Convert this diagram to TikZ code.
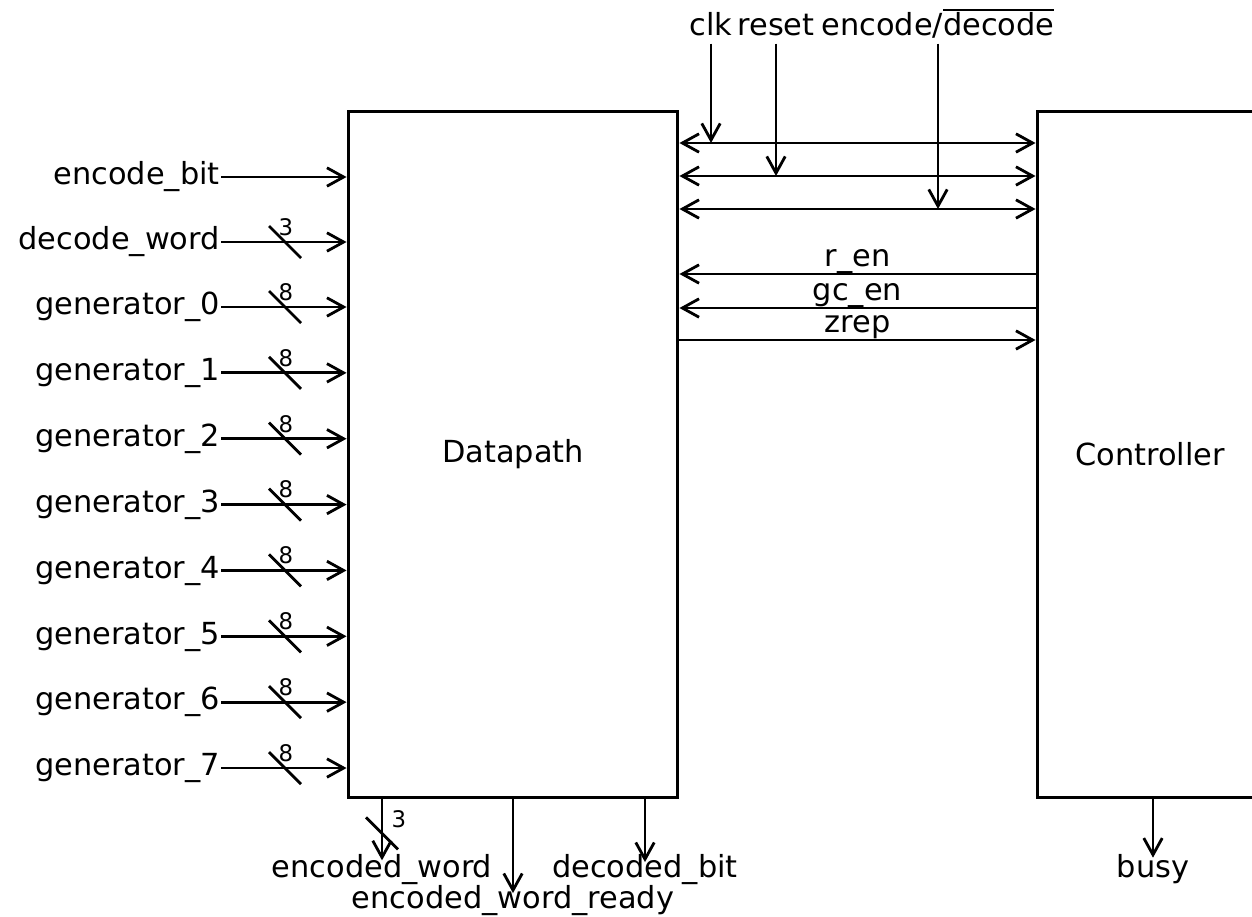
\documentclass[tikz,border=0pt]{standalone}
\usepackage{fontspec}
\setmainfont{DejaVu Sans}
\usepackage{tikz}
\usetikzlibrary{arrows.meta}
\usetikzlibrary{calc}

% bar over an active-low name
\newcommand{\negbar}[1]{\vbox{\hrule height 1.2pt\kern 0.3pt\hbox{#1}}}

\begin{document}
\begin{tikzpicture}[x=0.02cm,y=-0.02cm,>={Straight Barb[length=9.5pt,width=10.5pt]},
		sig/.style={->,line width=1.6pt},
		bidir/.style={<->,line width=1.6pt},
		slash/.style={line width=1.6pt},
		block/.style={draw,line width=1.7pt,inner sep=0pt,font=\fontsize{17.3pt}{20pt}\selectfont},
		lbl/.style={inner sep=0.5pt,text height=1em,text depth=0.12em,font=\fontsize{17.3pt}{20pt}\selectfont},
		busw/.style={inner sep=0pt,font=\fontsize{13pt}{15pt}\selectfont}]
		
		\useasboundingbox (0,0) rectangle (1252,917);
		
		% Blocks
		\node[block,minimum width=6.6cm,minimum height=13.74cm] (dp) at (513,454.5) {Datapath};
		\node[block,minimum width=4.52cm,minimum height=13.74cm] (ctl) at (1150,454.5) {Controller};
		
		% Datapath inputs
		\node[lbl,anchor=east] (ebit) at (221,177) {encode\_bit};
		\draw[sig] (ebit) -- (dp.west |- ebit);
		\node[lbl,anchor=east] (dword) at (221,242) {decode\_word};
		\draw[sig] (dword) -- (dp.west |- dword);
		\coordinate (dwords) at (285,242);
		\draw[slash] (dwords) ++(-16,-16) -- ++(32,32);
		\node[busw] (dwordw) at ($(dwords)+(1,-15)$) {3};
		\foreach \i in {0,...,7} {
			\node[lbl,anchor=east] (gen\i) at (221,{307+65.86*\i}) {generator\_\i};
			\draw[sig] (gen\i) -- (dp.west |- gen\i);
			\coordinate (gens\i) at (285,{307+65.86*\i});
			\draw[slash] (gens\i) ++(-16,-16) -- ++(32,32);
			\node[busw] (genw\i) at ($(gens\i)+(1,-15)$) {8};
		}
		
		% Global signals (both blocks)
		\coordinate (rowclk) at (0,143);
		\coordinate (rowrst) at (0,176);
		\coordinate (rowmode) at (0,209);
		\node[lbl,anchor=base] (clk) at (711,35) {clk};
		\node[lbl,anchor=base] (rst) at (776,35) {reset};
		\node[lbl,anchor=base] (mode) at (938,35) {encode/\negbar{decode}};
		\draw[bidir] (dp.east |- rowclk) -- (ctl.west |- rowclk);
		\draw[bidir] (dp.east |- rowrst) -- (ctl.west |- rowrst);
		\draw[bidir] (dp.east |- rowmode) -- (ctl.west |- rowmode);
		\draw[sig] ([yshift=-3pt]clk.south) -- (clk |- rowclk);
		\draw[sig] ([yshift=-3pt]rst.south) -- (rst |- rowrst);
		\draw[sig] ([yshift=-3pt]mode.south) -- (mode |- rowmode);
		
		% Controller <-> datapath
		\coordinate (rowren) at (0,274);
		\coordinate (rowgc) at (0,308);
		\coordinate (rowz) at (0,340);
		\draw[sig] (ctl.west |- rowren) -- (dp.east |- rowren)
			node[lbl,pos=0.5,anchor=base,yshift=4.5pt] (ren) {r\_en};
		\draw[sig] (ctl.west |- rowgc) -- (dp.east |- rowgc)
			node[lbl,pos=0.5,anchor=base,yshift=4.5pt] (gcen) {gc\_en};
		\draw[sig] (dp.east |- rowz) -- (ctl.west |- rowz)
			node[lbl,pos=0.5,anchor=base,yshift=4.5pt] (zrep) {zrep};
		
		% Outputs
		\node[lbl,anchor=base] (eword) at (382,877) {encoded\_word};
		\node[lbl,anchor=base] (ready) at (513,908) {encoded\_word\_ready};
		\node[lbl,anchor=base] (dbit) at (645,877) {decoded\_bit};
		\node[lbl,anchor=base] (busy) at (1153,877) {busy};
		\draw[sig] (dp.south -| eword) -- ([yshift=9.5pt]eword.base);
		\coordinate (ewords) at ($(dp.south -| eword)+(0,34)$);
		\draw[slash] (ewords) ++(-16,-16) -- ++(32,32);
		\node[busw] (ewordw) at ($(ewords)+(17,-14)$) {3};
		\draw[sig] (dp.south -| ready) -- ([yshift=8.5pt]ready.base);
		\draw[sig] (dp.south -| dbit) -- ([yshift=8.5pt]dbit.base);
		\draw[sig] (ctl.south -| busy) -- ([yshift=11pt]busy.base);
		
	\end{tikzpicture}
\end{document}
